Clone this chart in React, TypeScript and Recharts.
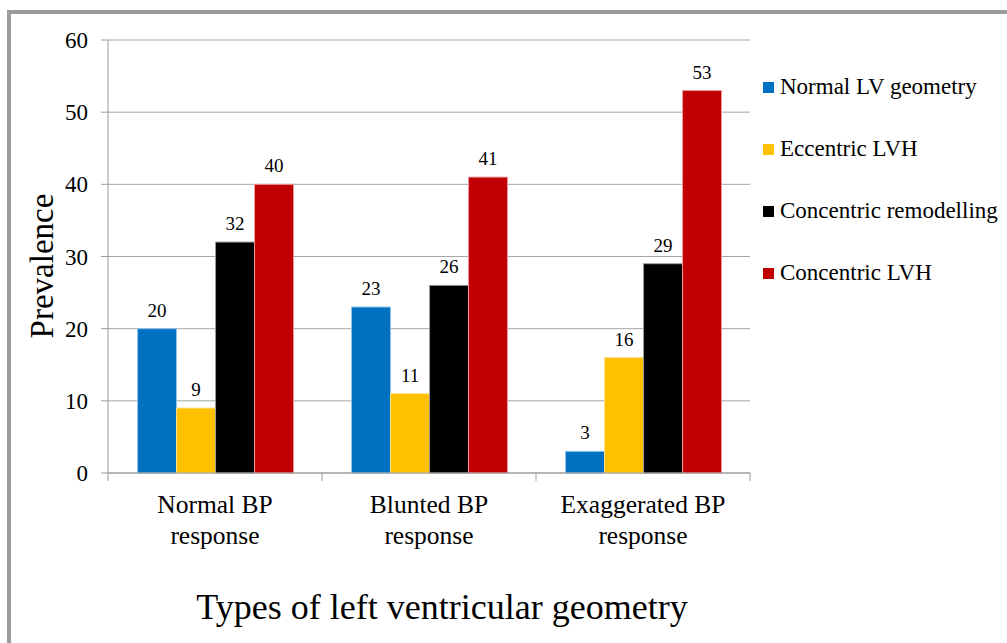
import { BarChart, Bar, XAxis, YAxis, CartesianGrid, LabelList } from "recharts";

const categories = ["Normal BP response", "Blunted BP response", "Exaggerated BP response"];
const categoryLines = [
  ["Normal BP", "response"],
  ["Blunted BP", "response"],
  ["Exaggerated BP", "response"],
];
const normalLV = [20, 23, 3];
const eccentricLVH = [9, 11, 16];
const concentricRemodelling = [32, 26, 29];
const concentricLVH = [40, 41, 53];
const yTicks = [0, 10, 20, 30, 40, 50, 60];

const series = [
  { key: "normal", name: "Normal LV geometry", color: "#0070C0", edge: "#8fc3ea" },
  { key: "eccentric", name: "Eccentric LVH", color: "#FFC000", edge: "#ffe08a" },
  { key: "remodel", name: "Concentric remodelling", color: "#000000", edge: "#9a9a9a" },
  { key: "lvh", name: "Concentric LVH", color: "#C00000", edge: "#ee9a9a" },
];

const data = categories.map((c, i) => ({
  category: c,
  normal: normalLV[i],
  eccentric: eccentricLVH[i],
  remodel: concentricRemodelling[i],
  lvh: concentricLVH[i],
}));

const FONT = "'Liberation Serif', 'Times New Roman', serif";

function CategoryTick(props: any) {
  const { x, y, payload, index } = props;
  const half = payload && payload.offset ? payload.offset : 107;
  const lines = categoryLines[index] || [payload.value];
  return (
    <g>
      <line x1={x - half} y1={y - 8} x2={x - half} y2={y} stroke="#999" />
      {index === categories.length - 1 && (
        <line x1={x + half} y1={y - 8} x2={x + half} y2={y} stroke="#999" />
      )}
      {lines.map((l: string, k: number) => (
        <text
          key={k}
          x={x}
          y={y + 32 + k * 31}
          textAnchor="middle"
          fontSize={25.5}
          fontFamily={FONT}
          fill="#000"
        >
          {l}
        </text>
      ))}
    </g>
  );
}

export default function App() {
  return (
    <div style={{ position: "absolute", left: 0, top: 0, width: 1007, height: 643, background: "#fff", overflow: "hidden" }}>
      <div
        style={{
          position: "absolute",
          left: 7,
          top: 10,
          width: 1020,
          height: 660,
          border: "4px solid #9b9b9b",
          boxSizing: "border-box",
        }}
      />
      <div style={{ position: "absolute", left: 0, top: 0 }}>
        <BarChart
          width={1007}
          height={643}
          data={data}
          margin={{ top: 40, right: 257, left: 48, bottom: 70 }}
          barCategoryGap="13.8%"
          barGap={0}
        >
          <CartesianGrid vertical={false} stroke="#a6a6a6" />
          <XAxis
            dataKey="category"
            height={100}
            axisLine={{ stroke: "#999" }}
            tickLine={false}
            tick={<CategoryTick />}
            interval={0}
          />
          <YAxis
            width={60}
            domain={[0, 60]}
            ticks={yTicks}
            axisLine={{ stroke: "#999" }}
            tickLine={{ stroke: "#999" }}
            tickSize={7}
            tickMargin={13}
            tick={{ fontSize: 23, fontFamily: FONT, fill: "#000" }}
          />
          {series.map((s) => (
            <Bar
              key={s.key}
              dataKey={s.key}
              name={s.name}
              fill={s.color}
              stroke={s.edge}
              strokeWidth={1}
              isAnimationActive={false}
            >
              <LabelList
                dataKey={s.key}
                position="top"
                offset={12}
                fontSize={19}
                fontFamily={FONT}
                fill="#000"
              />
            </Bar>
          ))}
        </BarChart>
      </div>
      <div style={{ position: "absolute", left: 763, top: 56, fontFamily: FONT, fontSize: 23, color: "#000" }}>
        {series.map((s) => (
          <div key={s.key} style={{ display: "flex", alignItems: "center", height: 62, whiteSpace: "nowrap" }}>
            <span style={{ width: 11, height: 11, background: s.color, marginRight: 6, display: "inline-block" }} />
            <span>{s.name}</span>
          </div>
        ))}
      </div>
      <div
        style={{
          position: "absolute",
          left: 42,
          top: 266,
          transform: "translate(-50%, -50%) rotate(-90deg)",
          fontFamily: FONT,
          fontSize: 33,
          whiteSpace: "nowrap",
          color: "#000",
        }}
      >
        Prevalence
      </div>
      <div
        style={{
          position: "absolute",
          left: 442,
          top: 607,
          transform: "translate(-50%, -50%)",
          fontFamily: FONT,
          fontSize: 36,
          whiteSpace: "nowrap",
          color: "#000",
        }}
      >
        Types of left ventricular geometry
      </div>
    </div>
  );
}
